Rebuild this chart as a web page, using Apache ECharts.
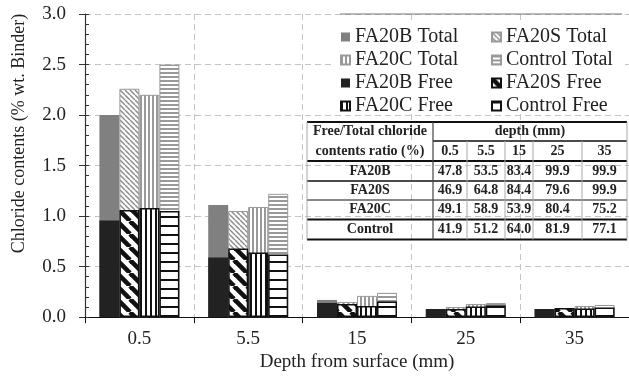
<!DOCTYPE html>
<html>
  <head>
    <meta charset="utf-8" />
    <title>Chloride contents</title>
    <script src="https://cdn.jsdelivr.net/npm/echarts@6/dist/echarts.min.js"></script>
  </head>
  <body style="margin:0">
    <div id="main" style="width: 629px;height:377px;"></div>
    <script type="text/javascript">
      // depth categories (mm)
      var depths = ['0.5', '5.5', '15', '25', '35'];

      // total chloride contents (% wt. binder)
      var totalFA20B = [2.00, 1.11, 0.17, 0.08, 0.08];
      var totalFA20S = [2.26, 1.05, 0.15, 0.10, 0.09];
      var totalFA20C = [2.20, 1.09, 0.21, 0.13, 0.11];
      var totalControl = [2.50, 1.22, 0.24, 0.14, 0.12];

      // free chloride contents (% wt. binder)
      var freeFA20B = [0.955, 0.59, 0.14, 0.08, 0.08];
      var freeFA20S = [1.06, 0.68, 0.13, 0.08, 0.09];
      var freeFA20C = [1.08, 0.64, 0.11, 0.105, 0.085];
      var freeControl = [1.05, 0.62, 0.155, 0.115, 0.095];

      // free/total ratio table (%)
      var ratioNames = ['FA20B', 'FA20S', 'FA20C', 'Control'];
      var ratioFA20B = [47.8, 53.5, 83.4, 99.9, 99.9];
      var ratioFA20S = [46.9, 64.8, 84.4, 79.6, 99.9];
      var ratioFA20C = [49.1, 58.9, 53.9, 80.4, 75.2];
      var ratioControl = [41.9, 51.2, 64.0, 81.9, 77.1];
      var ratioRows = [ratioFA20B, ratioFA20S, ratioFA20C, ratioControl];

      var FONT = 'Liberation Serif';

      // hatch patterns
      function pattern(w, h, draw) {
        var c = document.createElement('canvas');
        c.width = w; c.height = h;
        var ctx = c.getContext('2d');
        ctx.fillStyle = '#fff';
        ctx.fillRect(0, 0, w, h);
        draw(ctx, w, h);
        return { image: c, repeat: 'repeat' };
      }
      function diag(color, lw) {
        return function (ctx, s) {
          ctx.strokeStyle = color; ctx.lineWidth = lw;
          for (var k = -1; k <= 1; k++) {
            ctx.beginPath();
            ctx.moveTo(k * s, 0); ctx.lineTo(k * s + s, s);
            ctx.stroke();
          }
        };
      }
      var pDiagGrey = pattern(5, 5, diag('#8a8a8a', 1.4));
      var pDiagBlack = pattern(13, 13, diag('#111', 4.6));
      var pVertGrey = pattern(4, 1, function (ctx) { ctx.fillStyle = '#999'; ctx.fillRect(0, 0, 2, 1); });
      var pVertBlack = pattern(5, 1, function (ctx) { ctx.fillStyle = '#111'; ctx.fillRect(0, 0, 2, 1); });
      var pHorGrey = pattern(1, 4, function (ctx) { ctx.fillStyle = '#999'; ctx.fillRect(0, 0, 1, 2); });
      var pHorBlack = pattern(1, 9, function (ctx) { ctx.fillStyle = '#111'; ctx.fillRect(0, 0, 1, 2); });

      function bar(name, data, axis, color, border, bw) {
        return {
          name: name,
          type: 'bar',
          xAxisIndex: axis,
          barWidth: 20,
          barGap: 0,
          data: data,
          itemStyle: { color: color, borderColor: border, borderWidth: bw },
          emphasis: { disabled: true }
        };
      }

      // table graphic
      var colX = [307, 433, 467, 505, 533, 582, 627];
      var rowY = [122, 141, 161, 181, 200, 219.5, 239.5];
      var g = [];
      function hline(x1, x2, y, w) {
        g.push({ type: 'line', shape: { x1: x1, y1: y, x2: x2, y2: y }, style: { stroke: '#111', lineWidth: w }, z: 10 });
      }
      function vline(x, y1, y2, c, w) {
        g.push({ type: 'line', shape: { x1: x, y1: y1, x2: x, y2: y2 }, style: { stroke: c, lineWidth: w }, z: 10 });
      }
      function txt(s, x, y) {
        g.push({ type: 'text', x: x, y: y, z: 11,
          style: { text: s, font: 'bold 14px "Liberation Serif"', fill: '#222', align: 'center', verticalAlign: 'middle' } });
      }
      hline(colX[0], colX[6], rowY[0], 2);
      hline(colX[1], colX[6], rowY[1], 1.5);
      hline(colX[0], colX[6], rowY[2], 2);
      hline(colX[0], colX[6], rowY[3], 1.5);
      hline(colX[0], colX[6], rowY[4], 1);
      hline(colX[0], colX[6], rowY[5], 2);
      hline(colX[0], colX[6], rowY[6], 2);
      vline(colX[0], rowY[0], rowY[6], '#aaa', 1);
      vline(colX[1], rowY[0], rowY[6], '#444', 1.2);
      for (var i = 2; i < 6; i++) vline(colX[i], rowY[1], rowY[6], '#aaa', 1);
      vline(colX[6], rowY[0], rowY[6], '#aaa', 1);
      txt('Free/Total chloride', (colX[0] + colX[1]) / 2, (rowY[0] + rowY[1]) / 2);
      txt('contents ratio (%)', (colX[0] + colX[1]) / 2, (rowY[1] + rowY[2]) / 2);
      txt('depth (mm)', (colX[1] + colX[6]) / 2, (rowY[0] + rowY[1]) / 2);
      depths.forEach(function (d, j) {
        txt(d, (colX[j + 1] + colX[j + 2]) / 2, (rowY[1] + rowY[2]) / 2);
      });
      ratioRows.forEach(function (row, r) {
        var cy = (rowY[r + 2] + rowY[r + 3]) / 2;
        txt(ratioNames[r], (colX[0] + colX[1]) / 2, cy);
        row.forEach(function (v, j) {
          txt(v.toFixed(1), (colX[j + 1] + colX[j + 2]) / 2, cy);
        });
      });
      // legend box: white fill hides the grid, thin top edge
      g.push({ type: 'rect', shape: { x: 333, y: 20, width: 291, height: 90 }, style: { fill: '#fff' }, z: 3 });
      g.push({ type: 'line', shape: { x1: 340, y1: 14, x2: 622, y2: 14 }, style: { stroke: '#777', lineWidth: 1 }, z: 10 });

      var legendText = { fontFamily: FONT, fontSize: 20, color: '#222', lineHeight: 20 };

      var myChart = echarts.init(document.getElementById('main'));
      myChart.setOption({
        backgroundColor: '#fff',
        animation: false,
        textStyle: { fontFamily: FONT },
        grid: { left: 85, right: -3, top: 14, bottom: 54 },
        legend: [
          {
            orient: 'vertical', left: 335, top: 22, itemWidth: 9, itemHeight: 9, itemGap: 3,
            icon: 'rect', textStyle: legendText, z: 5,
            data: ['FA20B Total', 'FA20C Total', 'FA20B Free', 'FA20C Free']
          },
          {
            orient: 'vertical', left: 486, top: 22, itemWidth: 9, itemHeight: 9, itemGap: 3,
            icon: 'rect', textStyle: legendText, z: 5,
            data: ['FA20S Total', 'Control Total', 'FA20S Free', 'Control Free']
          }
        ],
        xAxis: [
          {
            type: 'category',
            data: depths,
            name: 'Depth from surface (mm)',
            nameLocation: 'middle',
            nameGap: 33,
            nameTextStyle: { fontFamily: FONT, fontSize: 19, color: '#222' },
            axisLine: { lineStyle: { color: '#111', width: 1.2 } },
            axisTick: { show: true, length: 6, lineStyle: { color: '#111' } },
            axisLabel: { fontFamily: FONT, fontSize: 19, color: '#222', margin: 12 },
            splitLine: { show: true, lineStyle: { color: '#c4c4c4', type: [6, 4] } }
          },
          {
            type: 'category',
            data: depths,
            show: false
          }
        ],
        yAxis: [
          {
            type: 'value',
            min: 0,
            max: 3,
            interval: 0.5,
            name: 'Chloride contents (% wt. Binder)',
            nameLocation: 'middle',
            nameGap: 57,
            nameTextStyle: { fontFamily: FONT, fontSize: 18, color: '#222', padding: [0, 0, 0, 64] },
            axisLine: { show: true, lineStyle: { color: '#333', width: 1.2 } },
            axisTick: { show: true, length: 6, lineStyle: { color: '#333' } },
            axisLabel: { fontFamily: FONT, fontSize: 19, color: '#222', margin: 19,
              formatter: function (v) { return v.toFixed(1); } },
            splitLine: { show: true, lineStyle: { color: '#c4c4c4', type: [6, 4] } }
          },
          {
            type: 'value',
            min: 0,
            max: 3,
            interval: 0.1,
            position: 'left',
            axisLine: { show: false },
            axisLabel: { show: false },
            splitLine: { show: false },
            axisTick: { show: true, inside: true, length: 4, lineStyle: { color: '#333' } }
          }
        ],
        series: [
          bar('FA20B Total', totalFA20B, 0, '#808080', '#808080', 0),
          bar('FA20S Total', totalFA20S, 0, pDiagGrey, '#999', 1),
          bar('FA20C Total', totalFA20C, 0, pVertGrey, '#999', 1),
          bar('Control Total', totalControl, 0, pHorGrey, '#999', 1),
          bar('FA20B Free', freeFA20B, 1, '#222', '#222', 0),
          bar('FA20S Free', freeFA20S, 1, pDiagBlack, '#111', 1.5),
          bar('FA20C Free', freeFA20C, 1, pVertBlack, '#111', 1.5),
          bar('Control Free', freeControl, 1, pHorBlack, '#111', 1.5)
        ],
        graphic: g
      });
    </script>
  </body>
</html>
